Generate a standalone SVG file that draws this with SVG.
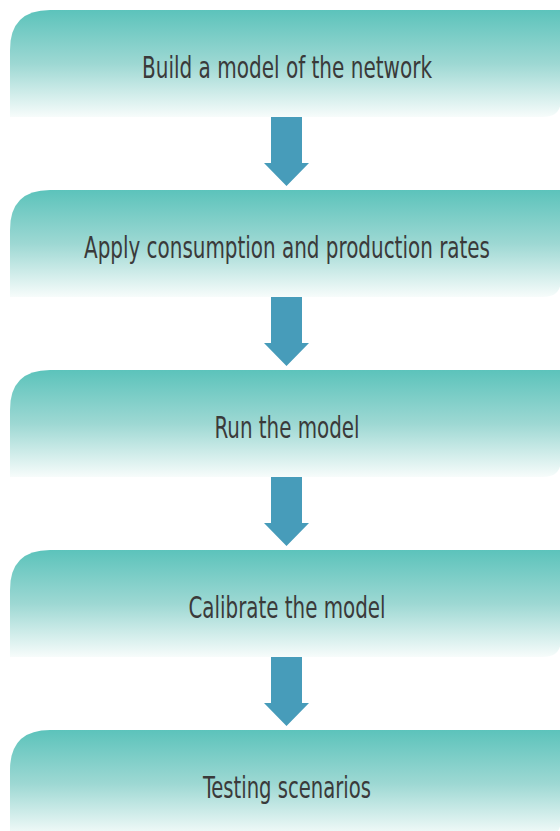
<svg xmlns="http://www.w3.org/2000/svg" width="560" height="831" viewBox="0 0 560 831">
  <defs>
    <linearGradient id="boxGrad" x1="0" y1="0" x2="0" y2="1">
      <stop offset="0" stop-color="#5cc3bb"/>
      <stop offset="0.5" stop-color="#9dd8d3"/>
      <stop offset="1" stop-color="#f7fcfb"/>
    </linearGradient>
    <path id="box" d="M10,107 V40 Q10,0 50,0 H561 V89 Q561,107 543,107 Z"/>
    <path id="arrow" d="M271,0 H302 V46 H309 L286.5,69 L264,46 H271 Z"/>
  </defs>
  <style>
    .box { fill: url(#boxGrad); }
    .lbl { font-family: "DejaVu Sans Condensed", "DejaVu Sans", "Liberation Sans", sans-serif; font-stretch: condensed; font-size: 30px; fill: #3a3a3a; text-anchor: middle; }
    .arr { fill: #479cba; }
  </style>
  <g id="node1" transform="translate(0,10)">
    <use href="#box" class="box"/>
    <text class="lbl" x="287" y="68" textLength="290" lengthAdjust="spacingAndGlyphs">Build a model of the network</text>
  </g>
  <g id="node2" transform="translate(0,190)">
    <use href="#box" class="box"/>
    <text class="lbl" x="287" y="68" textLength="406" lengthAdjust="spacingAndGlyphs">Apply consumption and production rates</text>
  </g>
  <g id="node3" transform="translate(0,370)">
    <use href="#box" class="box"/>
    <text class="lbl" x="287" y="68" textLength="145" lengthAdjust="spacingAndGlyphs">Run the model</text>
  </g>
  <g id="node4" transform="translate(0,550)">
    <use href="#box" class="box"/>
    <text class="lbl" x="287" y="68" textLength="197" lengthAdjust="spacingAndGlyphs">Calibrate the model</text>
  </g>
  <g id="node5" transform="translate(0,730)">
    <use href="#box" class="box"/>
    <text class="lbl" x="287" y="68" textLength="168" lengthAdjust="spacingAndGlyphs">Testing scenarios</text>
  </g>
  <g id="connectors" class="arr">
    <use href="#arrow" transform="translate(0,117)"/>
    <use href="#arrow" transform="translate(0,297)"/>
    <use href="#arrow" transform="translate(0,477)"/>
    <use href="#arrow" transform="translate(0,657)"/>
  </g>
</svg>
